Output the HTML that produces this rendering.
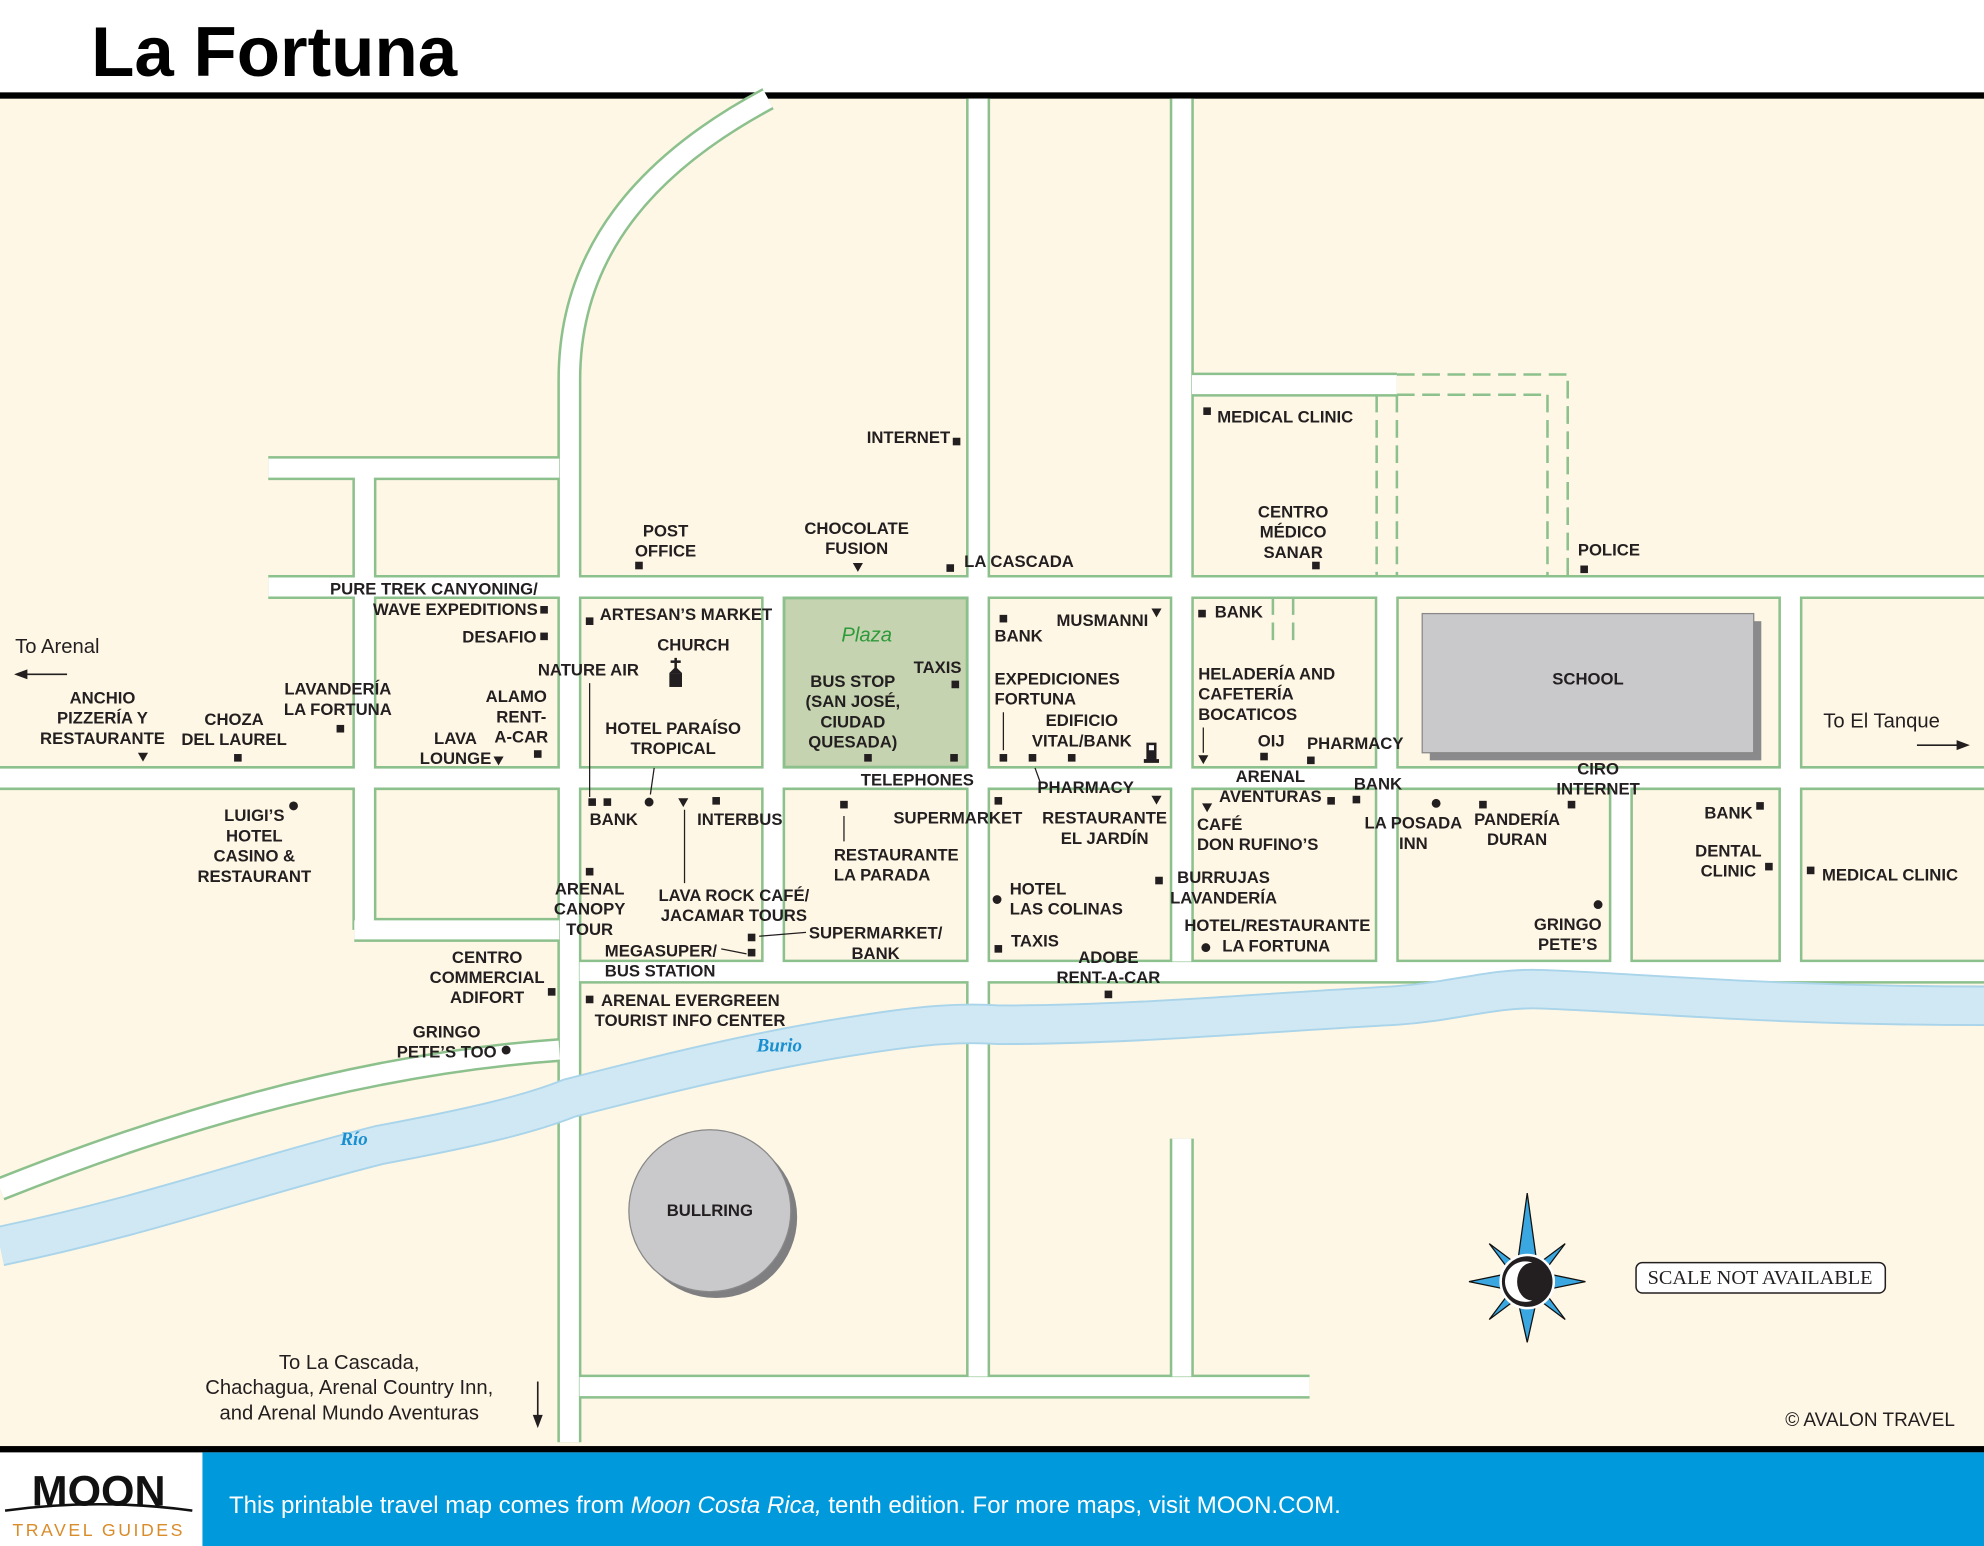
<!DOCTYPE html>
<html><head><meta charset="utf-8"><style>
html,body{margin:0;padding:0;background:#fff}
svg{display:block}
.l{font-family:"Liberation Sans Narrow","Liberation Sans",sans-serif;font-weight:bold;font-size:13.2px;fill:#231f20}
.c{text-anchor:middle}
.r{text-anchor:end}
.n{font-family:"Liberation Sans",sans-serif;font-size:16px;fill:#231f20}
</style></head><body>
<svg width="1984" height="1546" viewBox="0 0 1568 1222" preserveAspectRatio="none" xmlns="http://www.w3.org/2000/svg">
<rect x="0" y="0" width="1568" height="1222" fill="#fff"/>
<text x="72" y="60" font-family="Liberation Sans,sans-serif" font-weight="bold" font-size="56" fill="#000">La Fortuna</text>
<rect x="0" y="78" width="1568" height="1065" fill="#fef7e5"/>
<rect x="0" y="73" width="1568" height="5" fill="#000"/>
<g stroke="#8cc08c" stroke-width="19" fill="none" stroke-linecap="butt">
<path d="M212 370H442M212 464H1568M0 615H1568M458 768H1568M280 735H442M458 1096H1035M942 304H1104"/>
<path d="M450 1140V300C450 200 510 130 607 78"/>
<path d="M773 78V1088M934 78V760M934 900V1088M611 464V768M288 370V735M1096 464V768M1281 615V768M1415 464V768"/>
<path d="M442 830C300 840 150 880 0 940"/>
</g>
<g stroke="#fff" stroke-width="15" fill="none" stroke-linecap="butt">
<path d="M212 370H442M212 464H1568M0 615H1568M458 768H1568M280 735H442M458 1096H1035M942 304H1104"/>
<path d="M450 1140V300C450 200 510 130 607 78"/>
<path d="M773 78V1088M934 78V760M934 900V1088M611 464V768M288 370V735M1096 464V768M1281 615V768M1415 464V768"/>
<path d="M442 830C300 840 150 880 0 940"/>
</g>
<g stroke="#8cc08c" stroke-width="2" fill="none" stroke-dasharray="14 6">
<path d="M1104 296H1239V456M1223 312V456M1104 312H1223"/>
<path d="M1088 312V456M1104 312V456"/>
<path d="M1006 472V510M1022 472V510"/>
</g>
<rect x="620" y="473" width="144" height="133" fill="#c5d3b0" stroke="#8cc08c" stroke-width="1.5"/>
<path d="M0 985C120 960 200 930 300 905C380 890 420 880 450 868C520 850 600 830 680 818C730 810 760 808 790 810C900 810 1000 800 1100 795C1150 792 1180 780 1220 782C1300 785 1400 795 1568 795" stroke="#a9d4ea" stroke-width="32" fill="none"/>
<path d="M0 985C120 960 200 930 300 905C380 890 420 880 450 868C520 850 600 830 680 818C730 810 760 808 790 810C900 810 1000 800 1100 795C1150 792 1180 780 1220 782C1300 785 1400 795 1568 795" stroke="#cfe8f4" stroke-width="29" fill="none"/>
<rect x="1130" y="491" width="262" height="110" fill="#8a8a8c"/>
<rect x="1124" y="485" width="262" height="110" fill="#c9c9cb" stroke="#888" stroke-width="1"/>
<circle cx="566" cy="962" r="64" fill="#7f7f82"/>
<circle cx="561" cy="957" r="64" fill="#c9c9cb" stroke="#888" stroke-width="1"/>
<g stroke="#231f20" stroke-width="1" fill="none">
<path d="M466 540V630M517 607L514 628M541 640V698M600 740L637 737M570 750L590 754M667 645V665M793 563V593M818 607L822 618M951 575V595"/>
</g>
<g fill="#231f20">
<rect x="753" y="346" width="6" height="6"/><rect x="502" y="444" width="6" height="6"/><rect x="748" y="446" width="6" height="6"/>
<rect x="951" y="322" width="6" height="6"/><rect x="1037" y="444" width="6" height="6"/><rect x="1249" y="447" width="6" height="6"/>
<rect x="427" y="479" width="6" height="6"/><rect x="427" y="500" width="6" height="6"/><rect x="463" y="488" width="6" height="6"/>
<rect x="752" y="538" width="6" height="6"/><rect x="683" y="596" width="6" height="6"/><rect x="751" y="596" width="6" height="6"/>
<rect x="422" y="593" width="6" height="6"/><rect x="266" y="573" width="6" height="6"/><rect x="185" y="596" width="6" height="6"/>
<rect x="790" y="486" width="6" height="6"/><rect x="790" y="596" width="6" height="6"/><rect x="813" y="596" width="6" height="6"/><rect x="844" y="596" width="6" height="6"/>
<rect x="947" y="482" width="6" height="6"/><rect x="996" y="595" width="6" height="6"/><rect x="1033" y="598" width="6" height="6"/>
<rect x="786" y="630" width="6" height="6"/><rect x="1049" y="630" width="6" height="6"/><rect x="1069" y="629" width="6" height="6"/>
<rect x="1239" y="633" width="6" height="6"/><rect x="1169" y="633" width="6" height="6"/><rect x="1388" y="634" width="6" height="6"/>
<rect x="1395" y="682" width="6" height="6"/><rect x="1428" y="685" width="6" height="6"/><rect x="786" y="747" width="6" height="6"/>
<rect x="873" y="783" width="6" height="6"/><rect x="913" y="693" width="6" height="6"/>
<rect x="465" y="631" width="6" height="6"/><rect x="477" y="631" width="6" height="6"/><rect x="563" y="630" width="6" height="6"/>
<rect x="664" y="633" width="6" height="6"/><rect x="463" y="686" width="6" height="6"/><rect x="591" y="738" width="6" height="6"/>
<rect x="591" y="750" width="6" height="6"/><rect x="433" y="781" width="6" height="6"/><rect x="463" y="787" width="6" height="6"/>
<circle cx="1135" cy="635" r="3.5"/><circle cx="1263" cy="715" r="3.5"/><circle cx="788" cy="711" r="3.5"/><circle cx="953" cy="749" r="3.5"/>
<circle cx="232" cy="637" r="3.5"/><circle cx="513" cy="634" r="3.5"/><circle cx="400" cy="830" r="3.5"/>
<path d="M674 445h8l-4 7z"/><path d="M390 598h8l-4 7z"/><path d="M109 595h8l-4 7z"/><path d="M910 481h8l-4 7z"/>
<path d="M947 597h8l-4 7z"/><path d="M910 629h8l-4 7z"/><path d="M950 635h8l-4 7z"/><path d="M536 631h8l-4 7z"/>
<rect x="529" y="532" width="10" height="11"/><path d="M529 532l5-5 5 5z"/><rect x="533" y="520" width="2" height="8"/><rect x="530" y="522" width="8" height="2"/>
<rect x="906" y="587" width="8" height="14"/><rect x="904" y="600" width="12" height="3"/><rect x="908" y="589" width="4" height="4" fill="#fff"/>
</g>
<g stroke="#231f20" stroke-width="1.3" fill="#231f20">
<line x1="16" y1="533" x2="53" y2="533"/><path d="M13 533l8-3v6z"/>
<line x1="1515" y1="589" x2="1550" y2="589"/><path d="M1555 589l-8-3v6z"/>
<line x1="425" y1="1092" x2="425" y2="1122"/><path d="M425 1127l-3-8h6z"/>
</g>
<g class="l">
<text x="685" y="350">INTERNET</text>
<text class="c" x="526" y="424">POST</text><text class="c" x="526" y="440">OFFICE</text>
<text class="c" x="677" y="422">CHOCOLATE</text><text class="c" x="677" y="438">FUSION</text>
<text x="762" y="448">LA CASCADA</text>
<text x="962" y="334">MEDICAL CLINIC</text>
<text class="c" x="1022" y="409">CENTRO</text><text class="c" x="1022" y="425">MÉDICO</text><text class="c" x="1022" y="441">SANAR</text>
<text x="1247" y="439">POLICE</text>
<text class="r" x="425" y="470">PURE TREK CANYONING/</text><text class="r" x="425" y="486">WAVE EXPEDITIONS</text>
<text class="r" x="424" y="508">DESAFIO</text>
<text x="474" y="490">ARTESAN’S MARKET</text>
<text class="c" x="548" y="514">CHURCH</text>
<text class="c" x="465" y="534">NATURE AIR</text>
<text class="c" x="741" y="532">TAXIS</text>
<text class="c" x="674" y="543">BUS STOP</text><text class="c" x="674" y="559">(SAN JOSÉ,</text><text class="c" x="674" y="575">CIUDAD</text><text class="c" x="674" y="591">QUESADA)</text>
<text class="c" x="725" y="621">TELEPHONES</text>
<text class="c" x="532" y="580">HOTEL PARAÍSO</text><text class="c" x="532" y="596">TROPICAL</text>
<text class="c" x="408" y="555">ALAMO</text><text class="c" x="412" y="571">RENT-</text><text class="c" x="412" y="587">A-CAR</text>
<text class="c" x="360" y="588">LAVA</text><text class="c" x="360" y="604">LOUNGE</text>
<text class="c" x="267" y="549">LAVANDERÍA</text><text class="c" x="267" y="565">LA FORTUNA</text>
<text class="c" x="185" y="573">CHOZA</text><text class="c" x="185" y="589">DEL LAUREL</text>
<text class="c" x="81" y="556">ANCHIO</text><text class="c" x="81" y="572">PIZZERÍA Y</text><text class="c" x="81" y="588">RESTAURANTE</text>
<text x="786" y="507">BANK</text><text x="835" y="495">MUSMANNI</text>
<text x="786" y="541">EXPEDICIONES</text><text x="786" y="557">FORTUNA</text>
<text class="c" x="855" y="574">EDIFICIO</text><text class="c" x="855" y="590">VITAL/BANK</text>
<text x="960" y="488">BANK</text>
<text x="947" y="537">HELADERÍA AND</text><text x="947" y="553">CAFETERÍA</text><text x="947" y="569">BOCATICOS</text>
<text x="994" y="590">OIJ</text><text x="1033" y="592">PHARMACY</text>
<text class="c" x="1255" y="541">SCHOOL</text>
<text class="c" x="858" y="627">PHARMACY</text>
<text class="c" x="757" y="651">SUPERMARKET</text>
<text class="c" x="873" y="651">RESTAURANTE</text><text class="c" x="873" y="667">EL JARDÍN</text>
<text class="c" x="1004" y="618">ARENAL</text><text class="c" x="1004" y="634">AVENTURAS</text>
<text x="946" y="656">CAFÉ</text><text x="946" y="672">DON RUFINO’S</text>
<text x="1070" y="624">BANK</text>
<text class="c" x="1263" y="612">CIRO</text><text class="c" x="1263" y="628">INTERNET</text>
<text class="c" x="1117" y="655">LA POSADA</text><text class="c" x="1117" y="671">INN</text>
<text class="c" x="1199" y="652">PANDERÍA</text><text class="c" x="1199" y="668">DURAN</text>
<text x="1347" y="647">BANK</text>
<text class="c" x="1366" y="677">DENTAL</text><text class="c" x="1366" y="693">CLINIC</text>
<text x="1440" y="696">MEDICAL CLINIC</text>
<text class="c" x="1239" y="735">GRINGO</text><text class="c" x="1239" y="751">PETE’S</text>
<text x="798" y="707">HOTEL</text><text x="798" y="723">LAS COLINAS</text>
<text x="799" y="748">TAXIS</text>
<text class="c" x="876" y="761">ADOBE</text><text class="c" x="876" y="777">RENT-A-CAR</text>
<text class="c" x="967" y="698">BURRUJAS</text><text class="c" x="967" y="714">LAVANDERÍA</text>
<text x="936" y="736">HOTEL/RESTAURANTE</text><text x="966" y="752">LA FORTUNA</text>
<text class="c" x="201" y="649">LUIGI’S</text><text class="c" x="201" y="665">HOTEL</text><text class="c" x="201" y="681">CASINO &amp;</text><text class="c" x="201" y="697">RESTAURANT</text>
<text x="466" y="652">BANK</text><text x="551" y="652">INTERBUS</text>
<text x="659" y="680">RESTAURANTE</text><text x="659" y="696">LA PARADA</text>
<text class="c" x="466" y="707">ARENAL</text><text class="c" x="466" y="723">CANOPY</text><text class="c" x="466" y="739">TOUR</text>
<text class="c" x="580" y="712">LAVA ROCK CAFÉ/</text><text class="c" x="580" y="728">JACAMAR TOURS</text>
<text class="c" x="692" y="742">SUPERMARKET/</text><text class="c" x="692" y="758">BANK</text>
<text x="478" y="756">MEGASUPER/</text><text x="478" y="772">BUS STATION</text>
<text class="c" x="385" y="761">CENTRO</text><text class="c" x="385" y="777">COMMERCIAL</text><text class="c" x="385" y="793">ADIFORT</text>
<text x="475" y="795">ARENAL EVERGREEN</text><text x="470" y="811">TOURIST INFO CENTER</text>
<text class="c" x="353" y="820">GRINGO</text><text class="c" x="353" y="836">PETE’S TOO</text>
<text class="c" x="561" y="961">BULLRING</text>
</g>
<text x="685" y="507" text-anchor="middle" font-family="Liberation Sans,sans-serif" font-style="italic" font-size="16" fill="#2e9a3a">Plaza</text>
<text x="598" y="831" font-family="Liberation Serif,serif" font-style="italic" font-weight="bold" font-size="15" fill="#1a8fd0">Burio</text>
<text x="269" y="905" font-family="Liberation Serif,serif" font-style="italic" font-weight="bold" font-size="15" fill="#1a8fd0">Río</text>
<text class="n" x="12" y="516">To Arenal</text>
<text class="n" x="1441" y="575">To El Tanque</text>
<text class="n" x="276" y="1082" text-anchor="middle">To La Cascada,</text>
<text class="n" x="276" y="1102" text-anchor="middle">Chachagua, Arenal Country Inn,</text>
<text class="n" x="276" y="1122" text-anchor="middle">and Arenal Mundo Aventuras</text>
<text x="1545" y="1127" text-anchor="end" font-family="Liberation Sans,sans-serif" font-size="15" fill="#231f20">© AVALON TRAVEL</text>
<g transform="translate(1207,1013)">
<path d="M-30-30L-6-12 0 0-12-6Z M30-30L12-6 0 0 6-12Z M-30 30L-12 6 0 0-6 12Z M30 30L6 12 0 0 12 6Z" fill="#3aa7e0" stroke="#111" stroke-width="1"/>
<path d="M0-70L8-12 0 0-8-12Z M0 48L8 12 0 0-8 12Z M-46 0L-12-7 0 0-12 7Z M46 0L12-7 0 0 12 7Z" fill="#3aa7e0" stroke="#111" stroke-width="1"/>
<circle r="21" fill="#231f20" stroke="#fff" stroke-width="2"/>
<path d="M4-15A16 16 0 1 0 4 15A12 15 0 1 1 4-15Z" fill="#fff"/>
</g>
<rect x="1293" y="998" width="197" height="24" rx="5" fill="#fff" stroke="#231f20" stroke-width="1.2"/>
<text x="1391" y="1015" text-anchor="middle" font-family="Liberation Serif,serif" font-size="16" fill="#231f20">SCALE NOT AVAILABLE</text>
<rect x="0" y="1143" width="1568" height="5" fill="#000"/>
<rect x="160" y="1148" width="1408" height="74" fill="#0099dc"/>
<text x="78" y="1190" text-anchor="middle" font-family="Liberation Sans,sans-serif" font-weight="bold" font-size="34" fill="#111">MOON</text>
<path d="M4 1194Q78 1184 152 1194" stroke="#111" stroke-width="2" fill="none"/>
<text x="78" y="1214" text-anchor="middle" font-family="Liberation Sans,sans-serif" font-size="14" letter-spacing="2" fill="#d98c2a">TRAVEL GUIDES</text>
<text x="181" y="1196" font-family="Liberation Sans,sans-serif" font-size="19" fill="#fff">This printable travel map comes from <tspan font-style="italic">Moon Costa Rica,</tspan> tenth edition. For more maps, visit MOON.COM.</text>
</svg>
</body></html>
